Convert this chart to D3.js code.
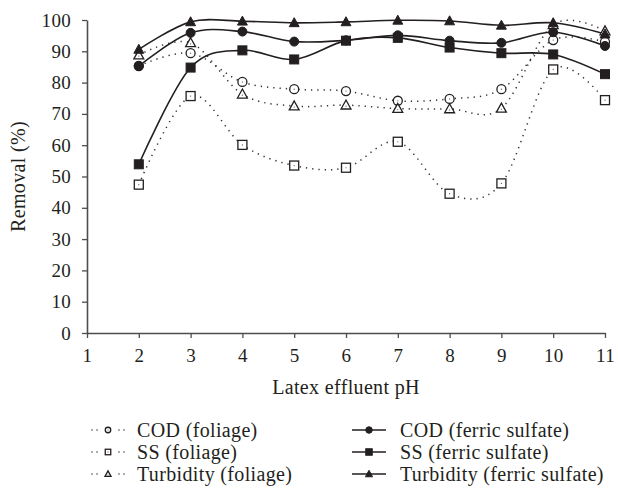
<!DOCTYPE html>
<html>
<head>
<meta charset="utf-8">
<script src="https://cdn.jsdelivr.net/npm/d3@7"></script>
<style>
  body { margin: 0; background: #fff; }
  svg { display: block; }
</style>
</head>
<body>
<svg id="chart" width="618" height="495"></svg>
<script>
const phValues = [2, 3, 4, 5, 6, 7, 8, 9, 10, 11];
const xTicks = [1, 2, 3, 4, 5, 6, 7, 8, 9, 10, 11];
const yTicks = [0, 10, 20, 30, 40, 50, 60, 70, 80, 90, 100];

const codFoliage   = [85.3, 89.4, 80.2, 77.9, 77.3, 74.2, 74.8, 77.9, 93.6, 93.0];
const ssFoliage    = [47.4, 75.7, 60.1, 53.5, 52.8, 61.1, 44.5, 47.8, 84.2, 74.4];
const turbFoliage  = [88.8, 92.7, 76.3, 72.5, 72.8, 71.7, 71.6, 71.8, 98.5, 96.5];
const codFerric    = [85.3, 95.9, 96.3, 93.1, 93.5, 95.1, 93.4, 92.7, 96.1, 91.7];
const ssFerric     = [53.9, 84.8, 90.3, 87.4, 93.4, 94.3, 91.2, 89.4, 89.0, 82.7];
const turbFerric   = [90.6, 99.4, 99.6, 99.1, 99.4, 99.9, 99.7, 98.3, 99.1, 95.5];

const seriesNames = ["COD (foliage)", "SS (foliage)", "Turbidity (foliage)",
                     "COD (ferric sulfate)", "SS (ferric sulfate)", "Turbidity (ferric sulfate)"];

const series = [
  { name: seriesNames[0], values: codFoliage,  shape: "circle",   open: true },
  { name: seriesNames[1], values: ssFoliage,   shape: "square",   open: true },
  { name: seriesNames[2], values: turbFoliage, shape: "triangle", open: true },
  { name: seriesNames[3], values: codFerric,   shape: "circle",   open: false },
  { name: seriesNames[4], values: ssFerric,    shape: "square",   open: false },
  { name: seriesNames[5], values: turbFerric,  shape: "triangle", open: false }
];

const ink = "#231f20";
const FONT = "Liberation Serif";
const svg = d3.select("#chart");

function styleText(sel, size, ls) {
  return sel.attr("font-family", FONT).style("font-family", FONT)
    .style("font-size", size + "px").style("letter-spacing", (ls || 0) + "px").attr("fill", ink);
}

const x = d3.scaleLinear().domain([1, 11]).range([87, 605]);
const y = d3.scaleLinear().domain([0, 100]).range([333, 20]);

// axes
const xAxis = svg.append("g").attr("transform", `translate(0,${y(0)})`)
  .call(d3.axisBottom(x).tickValues(xTicks).tickFormat(d3.format("d")).tickSize(5).tickSizeOuter(0).tickPadding(11));
const yAxis = svg.append("g").attr("transform", `translate(${x(1)},0)`)
  .call(d3.axisLeft(y).tickValues(yTicks).tickFormat(d3.format("d")).tickSize(5).tickSizeOuter(0).tickPadding(11));
[xAxis, yAxis].forEach(g => {
  g.attr("font-family", FONT);
  g.selectAll("path.domain").attr("stroke", "#4d4d4d").attr("stroke-width", 1.6);
  g.selectAll(".tick line").attr("stroke", "#4d4d4d").attr("stroke-width", 1.3);
  styleText(g.selectAll(".tick text"), 19, 0.3);
});

styleText(svg.append("text").attr("x", (x(1) + x(11)) / 2).attr("y", 394)
  .attr("text-anchor", "middle").text("Latex effluent pH"), 20, 0.35);
styleText(svg.append("text").attr("transform", `translate(25,${(y(0) + y(100)) / 2}) rotate(-90)`)
  .attr("text-anchor", "middle").text("Removal (%)"), 20, 0.35);

const line = d3.line().x(d => x(d[0])).y(d => y(d[1])).curve(d3.curveCardinal.tension(0));

function drawMarker(g, shape, open, cx, cy, s) {
  let el;
  if (shape === "circle") {
    el = g.append("circle").attr("cx", cx).attr("cy", cy).attr("r", s / 2);
  } else if (shape === "square") {
    el = g.append("rect").attr("x", cx - s / 2).attr("y", cy - s / 2).attr("width", s).attr("height", s);
  } else {
    const h = s * 0.95;
    el = g.append("path").attr("d", `M${cx},${cy - h * 0.6}L${cx + s * 0.55},${cy + h * 0.45}L${cx - s * 0.55},${cy + h * 0.45}Z`);
  }
  if (open) {
    el.attr("fill", "#fff").attr("stroke", ink).attr("stroke-width", 1.3);
    g.append("circle").attr("cx", cx).attr("cy", cy + (shape === "triangle" ? 1 : 0)).attr("r", 0.6).attr("fill", "#555");
  } else {
    el.attr("fill", ink).attr("stroke", ink).attr("stroke-width", 1);
  }
}

const plot = svg.append("g");
series.forEach(s => {
  const pts = phValues.map((p, i) => [p, s.values[i]]);
  plot.append("path").datum(pts).attr("d", line).attr("fill", "none")
    .attr("stroke", s.open ? "#333" : ink)
    .attr("stroke-width", s.open ? 1.5 : 1.6)
    .attr("stroke-dasharray", s.open ? "1.3 5" : null)
    .attr("stroke-linecap", "butt");
});
series.forEach(s => {
  const g = plot.append("g");
  phValues.forEach((p, i) => drawMarker(g, s.shape, s.open, x(p), y(s.values[i]), 9));
});

// legend
const legRows = [430, 452, 474];
series.forEach((s, i) => {
  const col = i < 3 ? 0 : 1;
  const row = i % 3;
  const cy = legRows[row];
  const g = svg.append("g");
  if (col === 0) {
    const mx = 108;
    [-16, -11, 11, 16].forEach(dx => g.append("circle").attr("cx", mx + dx).attr("cy", cy).attr("r", 0.8).attr("fill", "#444"));
    drawMarker(g, s.shape, true, mx, cy, 5.5);
    styleText(g.append("text").attr("x", 137).attr("y", cy + 6.5).text(s.name), 20, 0.35);
  } else {
    const mx = 369;
    g.append("line").attr("x1", mx - 17).attr("x2", mx + 17).attr("y1", cy).attr("y2", cy)
      .attr("stroke", ink).attr("stroke-width", 1.6);
    drawMarker(g, s.shape, false, mx, cy, 6.5);
    styleText(g.append("text").attr("x", 400).attr("y", cy + 6.5).text(s.name), 20, 0.35);
  }
});
</script>
</body>
</html>
